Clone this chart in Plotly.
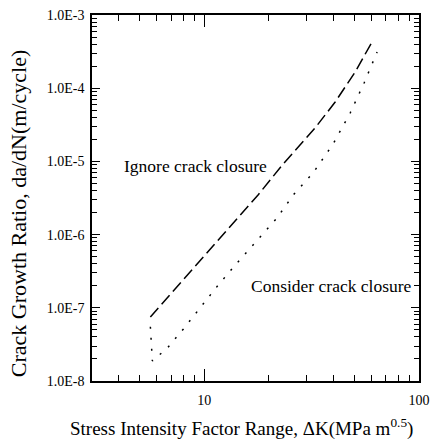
import plotly.graph_objects as go

# Data
ignore_x = [5.61, 9.58, 11.62, 17.8, 23.1, 32.8, 40.7, 50.4, 60.4]
ignore_y = [7.48e-8, 4.5e-7, 8.44e-7, 3.48e-6, 8.93e-6, 2.86e-5, 6.48e-5, 1.66e-4, 4.28e-4]

consider_x = [5.61, 5.73, 6.73, 7.99, 9.79, 11.62, 13.94, 16.9, 21.6, 26.2, 32.1, 39.8, 47.8, 55.5, 63.8]
consider_y = [5.5e-8, 1.88e-8, 2.82e-8, 5.13e-8, 1.09e-7, 2.05e-7, 3.84e-7, 7.21e-7, 1.63e-6,
              3.59e-6, 6.94e-6, 1.73e-5, 4.58e-5, 1.18e-4, 3.12e-4]

y_tickvals = [1e-8, 1e-7, 1e-6, 1e-5, 1e-4, 1e-3]
y_ticktext = ["1.0E-8", "1.0E-7", "1.0E-6", "1.0E-5", "1.0E-4", "1.0E-3"]
x_tickvals = [10, 100]
x_ticktext = ["10", "100"]

X_RANGE = [0.4771, 2.0]
Y_RANGE = [-8, -3]

FONT = "Liberation Serif"

fig = go.Figure()
fig.add_trace(go.Scatter(x=ignore_x, y=ignore_y, mode="lines",
                         line=dict(color="black", width=1.5, dash="12px,5px"),
                         showlegend=False, hoverinfo="skip"))
fig.add_trace(go.Scatter(x=consider_x, y=consider_y, mode="lines",
                         line=dict(color="black", width=1.5, dash="2px,9px"),
                         showlegend=False, hoverinfo="skip"))
# invisible helper trace so the overlay (major-tick) axes are drawn
fig.add_trace(go.Scatter(x=[x_tickvals[0]], y=[y_tickvals[0]], xaxis="x2", yaxis="y2",
                         mode="markers", marker=dict(opacity=0), showlegend=False,
                         hoverinfo="skip"))

base = dict(showline=True, linecolor="black", linewidth=1.5, mirror="allticks",
            ticks="inside", tickcolor="black", tickwidth=1.2, showgrid=False,
            zeroline=False, automargin=False, type="log",
            tickfont=dict(family=FONT, size=14, color="black"))

fig.update_layout(
    template="none",
    # minor-tick axes (every digit), no labels
    xaxis=dict(range=X_RANGE, dtick="D1", ticklen=6, showticklabels=False, **base),
    yaxis=dict(range=Y_RANGE, dtick="D1", ticklen=5, showticklabels=False, **base),
    # major-tick axes with labels
    xaxis2=dict(range=X_RANGE, overlaying="x", side="bottom", anchor="y",
                tickmode="array", tickvals=x_tickvals, ticktext=x_ticktext,
                ticklen=12, ticklabelstandoff=5, **base),
    yaxis2=dict(range=Y_RANGE, overlaying="y", side="left", anchor="x",
                tickmode="array", tickvals=y_tickvals, ticktext=y_ticktext,
                ticklen=8, ticklabelstandoff=3, **base),
    width=433, height=446,
    margin=dict(l=92, r=14, t=15, b=65, autoexpand=False),
    paper_bgcolor="white", plot_bgcolor="white",
    font=dict(family=FONT, color="black"),
    annotations=[
        dict(text="Ignore crack closure", xref="paper", yref="paper", x=0.315, y=0.587,
             xanchor="center", yanchor="middle",
             showarrow=False, font=dict(family=FONT, size=17.5)),
        dict(text="Consider crack closure", xref="paper", yref="paper", x=0.731, y=0.26,
             xanchor="center", yanchor="middle",
             showarrow=False, font=dict(family=FONT, size=17.5)),
        dict(text="Crack Growth Ratio, da/dN(m/cycle)", xref="paper", yref="paper",
             x=-0.226, y=0.456, textangle=-90, xanchor="center", yanchor="middle",
             showarrow=False, font=dict(family=FONT, size=22)),
        dict(text="Stress Intensity Factor Range, \u0394K(MPa m<sup>0.5</sup>)", xref="paper",
             yref="paper", x=0.456, y=-0.128, xanchor="center", yanchor="middle",
             showarrow=False, font=dict(family=FONT, size=19)),
    ],
)

fig.write_html("out.html")
